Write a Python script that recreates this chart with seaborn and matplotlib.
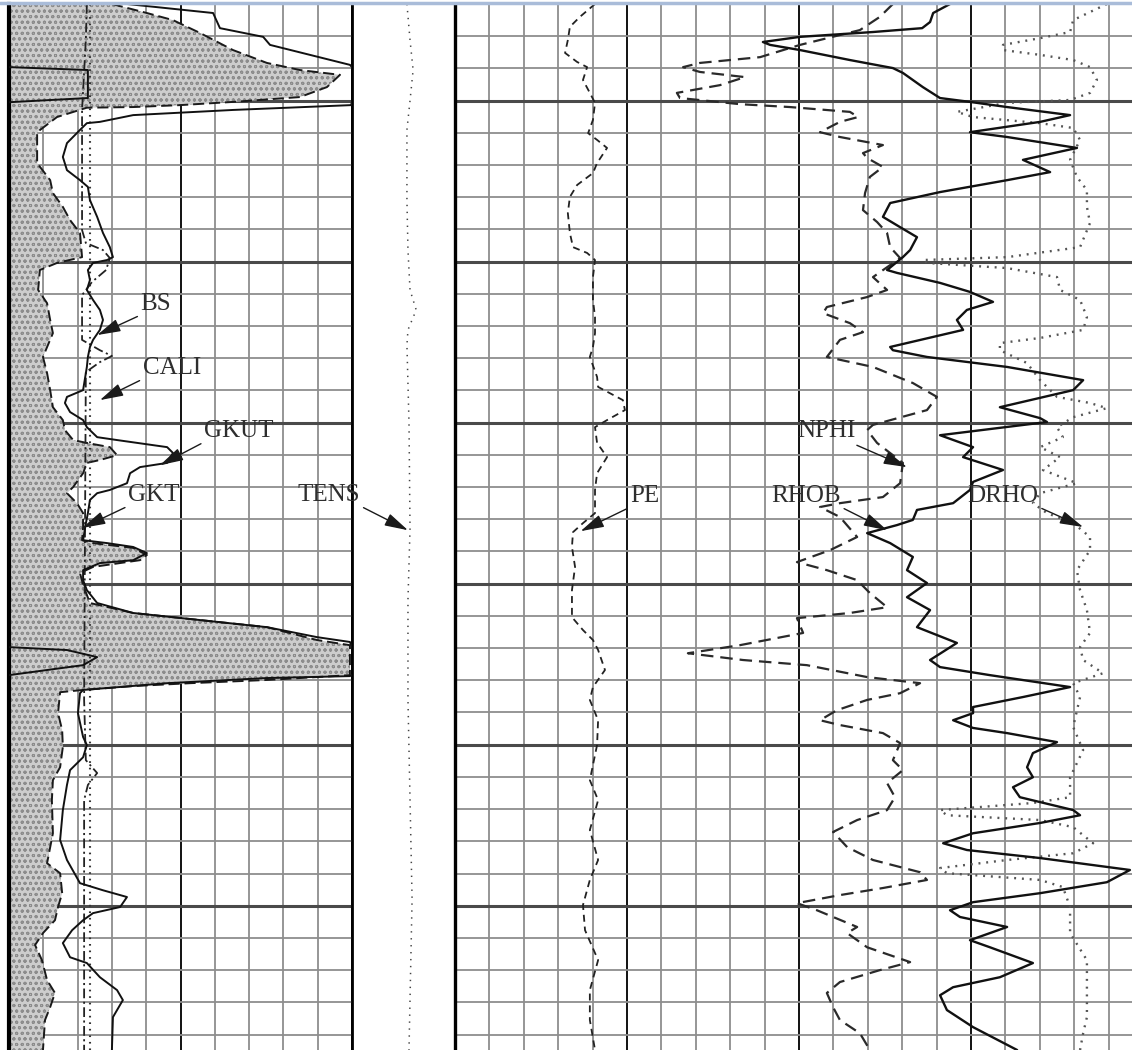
import numpy as np
import pandas as pd
import matplotlib
matplotlib.use("Agg")
import matplotlib.pyplot as plt
import seaborn as sns
from matplotlib.lines import Line2D

# depth in minor grid divisions from top of log, values in track divisions
DEPTH_BOTTOM = 32.48
MAJOR_DEPTHS = [3, 8, 13, 18, 23, 28]

BS_LOG = [(0.0, 2.36), (32.48, 2.36)]

CALI_LOG = [(0.00, 2.27), (1.12, 2.24), (3.29, 2.13), (7.02, 2.13), (7.42, 2.24),
            (7.64, 2.74), (7.89, 2.94), (8.26, 2.83), (8.63, 2.42), (9.04, 2.13),
            (10.43, 2.13), (10.75, 2.65), (10.93, 3.00), (11.12, 2.65), (11.43, 2.24),
            (21.61, 2.19), (23.48, 2.24), (23.88, 2.57), (24.25, 2.30), (24.72, 2.19),
            (32.48, 2.19)]

GKT_LOG = [(0.00, 3.00), (0.28, 4.02), (0.50, 4.78), (0.90, 5.57), (1.43, 6.53),
           (1.83, 7.52), (2.05, 8.48), (2.20, 9.65), (2.58, 9.27), (2.89, 8.48),
           (3.04, 6.53), (3.14, 4.99), (3.20, 3.62), (3.22, 2.27), (3.51, 1.40),
           (3.98, 0.82), (4.94, 0.82), (5.47, 1.20), (5.87, 1.28), (6.30, 1.57),
           (6.71, 1.78), (7.11, 2.07), (7.86, 2.13), (8.04, 1.40), (8.26, 0.90),
           (8.88, 0.85), (9.29, 1.11), (9.81, 1.20), (10.22, 1.28), (10.96, 0.99),
           (11.46, 1.11), (11.99, 1.20), (12.52, 1.28), (12.92, 1.57), (13.23, 1.63),
           (13.54, 1.87), (13.63, 2.27), (13.76, 2.94), (14.01, 3.15), (14.16, 2.65),
           (14.25, 2.27), (14.57, 2.16), (15.00, 1.87), (15.19, 1.69), (15.50, 1.98),
           (15.81, 2.16), (16.24, 2.16), (16.65, 2.13), (16.74, 2.45), (16.89, 3.62),
           (17.11, 4.02), (17.27, 3.82), (17.48, 2.45), (17.67, 2.07), (18.04, 2.16),
           (18.60, 2.36), (18.91, 3.62), (19.13, 5.57), (19.35, 7.52), (19.75, 8.98),
           (19.91, 9.94), (20.84, 9.94), (20.99, 7.52), (21.09, 5.28), (21.18, 3.62),
           (21.30, 2.16), (21.37, 1.49), (22.02, 1.43), (22.55, 1.55), (23.07, 1.57),
           (23.70, 1.49), (24.10, 1.28), (24.72, 1.25), (25.75, 1.28), (26.68, 1.11),
           (26.99, 1.49), (27.61, 1.55), (28.04, 1.43), (28.45, 1.34), (28.85, 0.99),
           (29.22, 0.76), (29.69, 0.96), (30.31, 1.11), (30.71, 1.34), (31.15, 1.20),
           (31.55, 1.05), (32.48, 0.99)]

# GKUT values above 10 wrap back onto the track (backup scale)
GKUT_LOG = [(0.00, 3.44), (0.28, 5.95), (0.75, 6.15), (1.02, 7.41), (1.27, 7.61),
            (1.89, 9.94), (1.96, 10.00), (2.05, 12.30), (2.92, 12.30), (3.05, 10.00),
            (3.14, 9.97), (3.29, 6.53), (3.45, 3.62), (3.66, 2.65), (3.70, 2.27),
            (3.91, 2.07), (4.32, 1.69), (4.75, 1.57), (5.16, 1.69), (5.47, 2.07),
            (5.68, 2.30), (6.09, 2.36), (6.61, 2.57), (7.11, 2.74), (7.55, 2.94),
            (7.86, 3.03), (7.95, 2.86), (8.04, 2.45), (8.26, 2.30), (8.57, 2.36),
            (8.88, 2.27), (9.19, 2.45), (9.50, 2.65), (9.81, 2.74), (10.12, 2.65),
            (10.43, 2.45), (10.65, 2.36), (10.96, 2.30), (11.27, 2.27), (11.99, 2.16),
            (12.20, 1.69), (12.39, 1.63), (12.67, 1.78), (12.92, 2.16), (13.14, 2.27),
            (13.45, 2.57), (13.54, 3.15), (13.76, 4.61), (13.94, 4.78), (14.25, 4.61),
            (14.38, 3.82), (14.57, 3.53), (14.88, 3.44), (15.09, 2.94), (15.19, 2.57),
            (15.40, 2.36), (15.81, 2.30), (16.24, 2.22), (16.65, 2.16), (16.74, 2.86),
            (16.86, 3.62), (17.05, 4.02), (17.27, 3.62), (17.36, 2.65), (17.58, 2.16),
            (17.89, 2.16), (18.20, 2.27), (18.60, 2.57), (18.91, 3.62), (19.13, 5.57),
            (19.35, 7.52), (19.66, 8.98), (19.81, 9.94), (19.97, 10.00), (20.06, 11.69),
            (20.28, 12.57), (20.53, 12.16), (20.84, 10.00), (20.87, 9.94), (20.93, 7.52),
            (21.09, 4.61), (21.30, 2.16), (21.40, 2.07), (22.02, 2.01), (22.76, 2.16),
            (23.01, 2.27), (23.39, 2.16), (23.79, 1.78), (24.25, 1.69), (25.03, 1.57),
            (25.96, 1.49), (26.58, 1.69), (27.30, 2.07), (27.52, 2.74), (27.73, 3.44),
            (28.04, 3.24), (28.23, 2.45), (28.45, 2.16), (28.76, 1.84), (29.16, 1.57),
            (29.60, 1.78), (29.78, 2.27), (30.22, 2.65), (30.62, 3.15), (30.93, 3.32),
            (31.46, 3.03), (32.48, 3.00)]

TENS_LOG = [(0.00, 1.60), (1.12, 1.69), (2.05, 1.78), (3.00, 1.69), (3.91, 1.60),
            (6.09, 1.60), (7.64, 1.63), (8.88, 1.69), (9.50, 1.87), (10.12, 1.63),
            (10.59, 1.60), (13.00, 1.66), (16.30, 1.69), (18.50, 1.63), (21.60, 1.63),
            (24.70, 1.69), (27.80, 1.75), (30.90, 1.69), (32.48, 1.66)]

PE_LOG = [(0.00, 4.07), (0.40, 3.63), (0.71, 3.34), (1.12, 3.28), (1.52, 3.20),
          (1.80, 3.55), (1.96, 3.84), (2.36, 3.72), (2.76, 3.92), (3.07, 4.07),
          (3.60, 4.01), (4.01, 3.87), (4.22, 4.13), (4.47, 4.42), (4.94, 4.13),
          (5.25, 4.01), (5.62, 3.55), (5.99, 3.34), (6.49, 3.28), (7.11, 3.34),
          (7.55, 3.43), (7.73, 3.84), (7.95, 4.07), (8.48, 4.01), (9.19, 4.01),
          (9.72, 4.07), (10.22, 4.07), (10.65, 4.01), (10.96, 3.92), (11.58, 4.13),
          (11.89, 4.16), (12.30, 4.88), (12.61, 4.94), (12.92, 4.42), (13.14, 4.07),
          (13.63, 4.13), (14.07, 4.42), (14.57, 4.13), (15.09, 4.07), (15.81, 4.07),
          (16.12, 3.72), (16.40, 3.43), (16.86, 3.40), (17.48, 3.49), (18.20, 3.40),
          (19.04, 3.40), (19.44, 3.72), (19.75, 4.01), (20.06, 4.16), (20.68, 4.36),
          (21.21, 4.01), (21.61, 3.92), (22.24, 4.16), (23.01, 4.13), (24.10, 3.92),
          (24.72, 4.16), (25.65, 3.92), (26.58, 4.16), (27.20, 3.92), (27.98, 3.72),
          (28.76, 3.78), (29.69, 4.16), (30.62, 3.92), (31.55, 3.92), (32.48, 4.07)]

NPHI_LOG = [(0.00, 12.73), (0.40, 12.35), (0.81, 11.77), (1.27, 10.03), (1.65, 8.87),
            (1.83, 7.12), (1.96, 6.63), (2.11, 7.12), (2.27, 8.43), (2.52, 7.70),
            (2.76, 6.45), (2.92, 6.54), (3.11, 8.28), (3.20, 9.74), (3.35, 11.48),
            (3.51, 11.72), (3.66, 11.19), (3.98, 10.61), (4.13, 11.19), (4.38, 12.44),
            (4.63, 11.86), (4.78, 11.98), (5.06, 12.44), (5.37, 12.06), (5.87, 11.92),
            (6.40, 11.86), (6.77, 12.27), (7.11, 12.56), (7.55, 12.65), (7.89, 12.94),
            (8.48, 12.15), (8.88, 12.56), (9.10, 11.98), (9.41, 10.81), (9.60, 10.70),
            (9.91, 11.48), (10.19, 11.86), (10.43, 11.19), (10.96, 10.81), (11.27, 12.15),
            (11.77, 13.31), (12.20, 14.01), (12.61, 13.72), (13.07, 12.15), (13.23, 11.98),
            (13.63, 12.27), (14.25, 13.02), (14.88, 12.94), (15.31, 12.44), (15.50, 11.19),
            (15.62, 10.61), (15.93, 11.19), (16.55, 11.69), (16.96, 10.90), (17.33, 9.94),
            (17.58, 10.81), (17.89, 11.69), (18.29, 12.06), (18.73, 12.56), (18.91, 11.48),
            (19.07, 9.94), (19.53, 10.12), (19.91, 8.28), (20.16, 6.77), (20.37, 8.37),
            (20.53, 10.23), (20.90, 11.98), (21.09, 13.52), (21.40, 12.94), (21.61, 11.98),
            (21.93, 11.10), (22.24, 10.61), (22.39, 11.19), (22.64, 12.44), (22.95, 12.94),
            (23.48, 12.73), (23.79, 13.02), (24.19, 12.56), (24.63, 12.79), (25.03, 12.56),
            (25.34, 11.69), (25.71, 10.99), (26.18, 11.40), (26.58, 12.15), (26.96, 13.52),
            (27.20, 13.72), (27.45, 12.44), (27.67, 11.19), (27.92, 9.94), (28.14, 10.52),
            (28.66, 11.69), (28.85, 11.40), (29.29, 11.98), (29.75, 13.23), (30.00, 12.35),
            (30.37, 11.19), (30.71, 10.81), (31.15, 10.99), (31.55, 11.19), (31.96, 11.77),
            (32.48, 12.06)]

RHOB_LOG = [(0.00, 14.39), (0.28, 13.90), (0.56, 13.81), (0.75, 13.58), (0.87, 12.15),
            (1.02, 10.03), (1.18, 8.95), (1.27, 9.16), (1.43, 10.03), (1.74, 11.48),
            (1.99, 12.73), (2.14, 13.02), (2.58, 13.60), (2.92, 14.10), (3.04, 14.97),
            (3.20, 16.05), (3.45, 17.88), (3.66, 17.01), (3.98, 14.97), (4.13, 16.05),
            (4.47, 18.08), (4.84, 16.51), (5.22, 17.30), (5.47, 16.05), (5.84, 14.10),
            (6.18, 12.65), (6.61, 12.44), (6.93, 12.94), (7.24, 13.43), (7.64, 13.23),
            (7.86, 13.02), (8.26, 12.56), (8.35, 12.85), (8.66, 14.10), (8.94, 14.97),
            (9.25, 15.64), (9.50, 14.88), (9.81, 14.59), (10.12, 14.77), (10.65, 12.65),
            (10.75, 12.73), (10.96, 13.72), (11.27, 16.05), (11.68, 18.26), (11.99, 17.97),
            (12.52, 15.84), (12.86, 17.01), (12.98, 17.21), (13.39, 14.10), (13.76, 15.06),
            (14.07, 14.77), (14.47, 15.93), (14.84, 15.06), (15.09, 14.97), (15.50, 14.48),
            (15.71, 13.43), (16.02, 13.31), (16.18, 12.85), (16.43, 11.98), (16.74, 12.65),
            (17.17, 13.31), (17.58, 13.14), (17.98, 13.72), (18.42, 13.14), (18.82, 13.81),
            (19.35, 13.43), (19.84, 14.59), (20.37, 13.81), (20.59, 14.10), (20.84, 15.55),
            (21.21, 17.88), (21.52, 16.51), (21.83, 15.06), (22.02, 15.06), (22.24, 14.48),
            (22.48, 15.06), (22.64, 16.05), (22.92, 17.50), (23.26, 16.80), (23.70, 16.63),
            (24.01, 16.80), (24.32, 16.22), (24.63, 16.42), (25.03, 17.97), (25.19, 18.17),
            (25.43, 17.01), (25.75, 15.06), (26.06, 14.19), (26.27, 14.88), (26.52, 17.01),
            (26.89, 19.62), (27.27, 18.95), (27.61, 17.01), (27.89, 15.06), (28.14, 14.39),
            (28.35, 14.68), (28.66, 16.05), (29.07, 14.97), (29.29, 15.55), (29.78, 16.80),
            (30.22, 15.84), (30.53, 14.48), (30.78, 14.10), (31.24, 14.30), (31.77, 15.06),
            (32.48, 16.34)]

DRHO_LOG = [(0.00, 18.95), (0.50, 17.97), (0.87, 17.88), (1.06, 17.01), (1.27, 15.93),
            (1.43, 15.93), (1.58, 17.01), (1.74, 17.97), (1.96, 18.46), (2.36, 18.66),
            (2.76, 18.46), (2.98, 17.88), (3.07, 16.05), (3.35, 14.59), (3.51, 15.06),
            (3.70, 17.01), (3.85, 17.97), (4.22, 18.17), (4.84, 17.88), (5.37, 18.08),
            (5.78, 18.37), (6.30, 18.37), (6.80, 18.46), (7.55, 18.17), (7.86, 16.05),
            (7.95, 13.60), (8.04, 13.72), (8.20, 16.05), (8.48, 17.50), (8.88, 17.59),
            (9.19, 18.17), (9.72, 18.37), (10.12, 18.26), (10.37, 17.01), (10.53, 15.84),
            (10.75, 15.84), (11.15, 16.63), (11.68, 17.01), (12.20, 17.50), (12.39, 18.46),
            (12.55, 18.95), (12.83, 17.97), (13.14, 17.50), (13.45, 17.67), (13.76, 17.01),
            (14.07, 17.59), (14.47, 17.09), (14.88, 18.08), (15.19, 17.01), (15.50, 16.80),
            (15.81, 17.21), (16.12, 17.97), (16.55, 18.46), (16.96, 18.46), (17.58, 18.08),
            (18.20, 18.17), (18.82, 18.37), (19.53, 18.46), (19.97, 18.17), (20.37, 18.26),
            (20.78, 18.84), (21.09, 17.97), (21.52, 18.17), (22.45, 17.97), (23.17, 18.26),
            (24.01, 17.88), (24.63, 17.88), (24.81, 16.80), (25.03, 14.10), (25.19, 14.30),
            (25.34, 17.01), (25.56, 17.97), (26.06, 18.55), (26.37, 17.97), (26.58, 16.05),
            (26.83, 14.10), (26.99, 14.30), (27.20, 17.01), (27.42, 17.67), (28.04, 17.88),
            (28.85, 17.88), (29.69, 18.37), (30.40, 18.37), (31.46, 18.37), (31.96, 18.26),
            (32.48, 18.17)]


def split(log):
    arr = np.array(log, dtype=float)
    return arr[:, 0], arr[:, 1]


def draw_curve(ax, depth, values, **kws):
    sns.lineplot(x=values, y=depth, ax=ax, sort=False, estimator=None,
                 legend=False, **kws)


def style_track(ax, width, border_left, border_right):
    ax.set_facecolor("white")
    ax.set_xlim(0, width)
    ax.set_ylim(DEPTH_BOTTOM, 0)
    ax.set_xticks(np.arange(0, width + 0.01, 5))
    ax.set_xticks(np.arange(1, width, 1), minor=True)
    ax.set_yticks(MAJOR_DEPTHS)
    ax.set_yticks(np.arange(1, DEPTH_BOTTOM, 1), minor=True)
    ax.grid(which="minor", color="#8e8e8e", linewidth=1.3)
    ax.grid(which="major", axis="x", color="#111111", linewidth=1.4)
    ax.grid(which="major", axis="y", color="#4a4a4a", linewidth=2.2)
    ax.set_axisbelow(True)
    ax.tick_params(which="both", length=0, labelbottom=False, labelleft=False)
    for side in ["top", "bottom", "left", "right"]:
        ax.spines[side].set_visible(False)
    if border_left:
        ax.spines["left"].set_visible(True)
        ax.spines["left"].set_color("black")
        ax.spines["left"].set_linewidth(border_left)
    if border_right:
        ax.spines["right"].set_visible(True)
        ax.spines["right"].set_color("black")
        ax.spines["right"].set_linewidth(border_right)
    ax.set_xlabel("")
    ax.set_ylabel("")


sns.set_theme(style="white")
plt.rcParams["font.family"] = ["Liberation Serif", "DejaVu Serif"]
plt.rcParams["lines.scale_dashes"] = False
plt.rcParams["hatch.linewidth"] = 0.7

W, H = 1132, 1050
fig = plt.figure(figsize=(W / 100, H / 100), dpi=100)
fig.patch.set_facecolor("white")

ax_l = fig.add_axes([9 / W, 0, (352 - 9) / W, (H - 4) / H])
ax_m = fig.add_axes([352 / W, 0, (455 - 352) / W, (H - 4) / H])
ax_r = fig.add_axes([455 / W, 0, (W - 455) / W, (H - 4) / H])

style_track(ax_l, 10, 3.0, 2.0)
style_track(ax_r, (W - 455) / 34.4, 2.4, None)
ax_m.set_xlim(0, 3)
ax_m.set_ylim(DEPTH_BOTTOM, 0)
ax_m.axis("off")

# ---- track 1: gamma ray, caliper, bit size ----
gkt_depth, gkt = split(GKT_LOG)
ax_l.fill_betweenx(gkt_depth, 0, gkt, facecolor="#cdcdcd", edgecolor="#8c8c8c",
                   hatch="ooo", linewidth=0, zorder=1.5)
draw_curve(ax_l, gkt_depth, gkt, color="#1a1a1a", linewidth=1.4,
           linestyle=(0, (8, 3.5)), zorder=3)

bs_depth, bs = split(BS_LOG)
draw_curve(ax_l, bs_depth, bs, color="#333333", linewidth=1.5,
           linestyle=(0, (1.2, 3.5)), zorder=3)

cali_depth, cali = split(CALI_LOG)
draw_curve(ax_l, cali_depth, cali, color="#222222", linewidth=1.3,
           linestyle=(0, (7, 2.5, 1.5, 2.5)), zorder=3)

gkut_depth, gkut = split(GKUT_LOG)
draw_curve(ax_l, gkut_depth, gkut, color="#111111", linewidth=1.4, zorder=4)
wrapped = gkut >= 10
wrap_df = pd.DataFrame({
    "depth": gkut_depth[wrapped],
    "value": gkut[wrapped] - 10,
    "seg": np.cumsum(np.diff(wrapped.astype(int), prepend=0) == 1)[wrapped],
})
sns.lineplot(data=wrap_df, x="value", y="depth", units="seg", estimator=None,
             sort=False, ax=ax_l, color="#111111", linewidth=1.4, zorder=4,
             legend=False)
ax_l.set_xlabel("")
ax_l.set_ylabel("")

# ---- depth track: tension ----
tens_depth, tens = split(TENS_LOG)
draw_curve(ax_m, tens_depth, tens, color="#444444", linewidth=1.1,
           linestyle=(0, (1, 4)))

# ---- track 2: porosity / density ----
pe_depth, pe = split(PE_LOG)
draw_curve(ax_r, pe_depth, pe, color="#222222", linewidth=1.3,
           linestyle=(0, (5, 3.5)), zorder=3)
nphi_depth, nphi = split(NPHI_LOG)
draw_curve(ax_r, nphi_depth, nphi, color="#2a2a2a", linewidth=1.6,
           linestyle=(0, (9, 5)), zorder=3)
rhob_depth, rhob = split(RHOB_LOG)
draw_curve(ax_r, rhob_depth, rhob, color="#111111", linewidth=1.7, zorder=4)
drho_depth, drho = split(DRHO_LOG)
draw_curve(ax_r, drho_depth, drho, color="#555555", linewidth=1.7,
           linestyle=(0, (1.4, 4.2)), zorder=3)
ax_r.set_xlabel("")
ax_r.set_ylabel("")
ax_m.set_xlabel("")
ax_m.set_ylabel("")

# ---- curve labels with arrows ----
labels = [
    ("BS", ax_l, (2.57, 10.28), (156, 304), (0, 0)),
    ("CALI", ax_l, (2.65, 12.30), (172, 368), (0, 0)),
    ("GKUT", ax_l, (4.40, 14.32), (239, 431), (0, 0)),
    ("GKT", ax_l, (2.13, 16.27), (154, 495), (0, 0)),
    ("TENS", ax_m, (1.63, 16.34), (329, 495), (1, 0)),
    ("PE", ax_r, (3.65, 16.37), (645, 496), (0, 0)),
    ("NPHI", ax_r, (13.14, 14.38), (826, 431), (0.9, 0)),
    ("RHOB", ax_r, (12.56, 16.34), (806, 496), (1, 0)),
    ("DRHO", ax_r, (18.26, 16.24), (1003, 496), (1, 0)),
]
for text, ax, tip, pos, rel in labels:
    ax.annotate(text, xy=tip, xycoords="data",
                xytext=(pos[0] / W, 1 - pos[1] / H), textcoords="figure fraction",
                ha="center", va="center", fontsize=18, color="#2e2e2e", zorder=6,
                annotation_clip=False,
                arrowprops=dict(arrowstyle="-|>,head_length=0.8,head_width=0.22",
                                color="#1a1a1a", lw=1.0, relpos=rel,
                                shrinkA=0, shrinkB=0, mutation_scale=18))

fig.add_artist(Line2D([0, 1], [1 - 3 / H, 1 - 3 / H], color="#a9bcd9", linewidth=2.5))

fig.savefig("out.png", dpi=100, facecolor="white")
